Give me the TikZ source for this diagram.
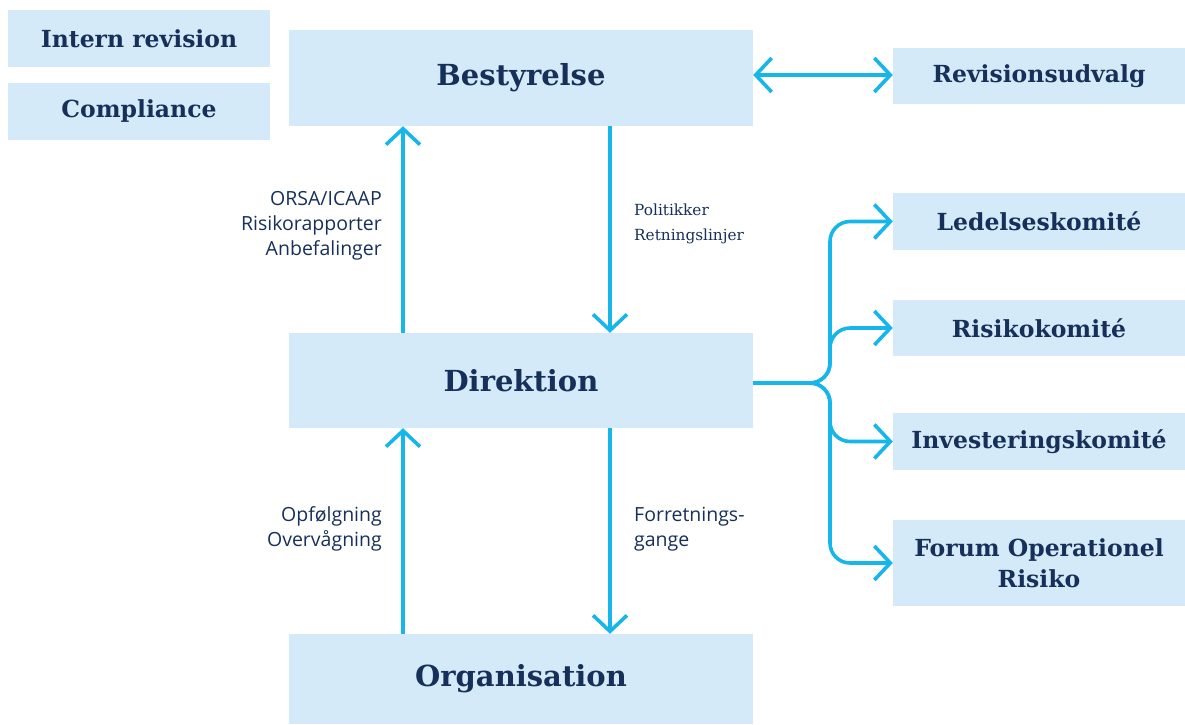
\documentclass[tikz,border=0pt]{standalone}
\usepackage{fontspec}
\setmainfont{DejaVu Serif}
\newfontfamily\labsans{Open Sans}
\newfontfamily\labserif{DejaVu Serif}
\usetikzlibrary{arrows.meta}
\definecolor{boxfill}{HTML}{D5EAF8}
\definecolor{navy}{HTML}{17305A}
\definecolor{arrowc}{HTML}{16B6EA}
\tikzset{
  box/.style={fill=boxfill, draw=none, inner sep=0pt, text=navy, font=\bfseries\fontsize{23.5}{31}\selectfont, align=center},
  bigbox/.style={box, minimum width=464pt, font=\bfseries\fontsize{29}{34}\selectfont},
  sidebox/.style={box, minimum width=292pt},
  leftbox/.style={box, minimum width=262pt, minimum height=57pt},
  arr/.style={draw=arrowc, line width=3.6pt, -{Straight Barb[length=16pt,width=34pt]}},
  darr/.style={draw=arrowc, line width=3.6pt, {Straight Barb[length=16pt,width=34pt]}-{Straight Barb[length=16pt,width=34pt]}},
  lbl/.style={text=navy, font=\labsans\fontsize{19.5}{25}\selectfont, inner sep=0pt},
  lblserif/.style={text=navy, font=\labserif\fontsize{15.3}{25}\selectfont, inner sep=0pt}
}
\begin{document}
\begin{tikzpicture}[x=1pt,y=-1pt]
\useasboundingbox (0,0) rectangle (1185,724);
% boxes
\node[leftbox] (intern) at (139,38.5) {Intern revision};
\node[leftbox] (compl) at (139,111.5) {Compliance};
\node[bigbox, minimum height=96pt] (bes) at (521,78) {Bestyrelse};
\node[sidebox, minimum height=56pt] (rev) at (1039,76) {Revisionsudvalg};
\node[bigbox, minimum height=95pt] (dir) at (521,380.5) {Direktion};
\node[bigbox, minimum height=90pt] (org) at (521,679) {Organisation};
\node[sidebox, minimum height=57pt] (led) at (1039,221.5) {Ledelseskomité};
\node[sidebox, minimum height=56pt] (risk) at (1039,328) {Risikokomité};
\node[sidebox, minimum height=57pt] (inv) at (1039,441.5) {Investeringskomité};
\node[sidebox, minimum height=86pt] (forum) at (1039,563) {Forum Operationel\\Risiko};
% helper coordinates
\coordinate (upx) at (403,0);
\coordinate (dnx) at (610,0);
\coordinate (revy) at (0,75);
\coordinate (fork) at (830,383);
\coordinate (dirout) at (0,383);
% vertical arrows
\draw[arr] (dir.north -| upx) -- (bes.south -| upx);
\draw[arr] (bes.south -| dnx) -- (dir.north -| dnx);
\draw[arr] (org.north -| upx) -- (dir.south -| upx);
\draw[arr] (dir.south -| dnx) -- (org.north -| dnx);
% double arrow
\draw[darr] (bes.east |- revy) -- (rev.west |- revy);
% fork
\foreach \t in {led,risk,inv,forum}{
  \draw[arr, rounded corners=20pt] (dir.east |- dirout) -- (fork) |- (\t.west);
}
% labels
\node[lbl, anchor=east, align=right] (l1) at (382,226) {ORSA/ICAAP\\Risikorapporter\\Anbefalinger};
\node[lblserif, anchor=west, align=left] (l2) at (634,224) {Politikker\\Retningslinjer};
\node[lbl, anchor=east, align=right] (l3) at (382,529) {Opfølgning\\Overvågning};
\node[lbl, anchor=west, align=left] (l4) at (634,529) {Forretnings-\\gange};
\end{tikzpicture}
\end{document}
